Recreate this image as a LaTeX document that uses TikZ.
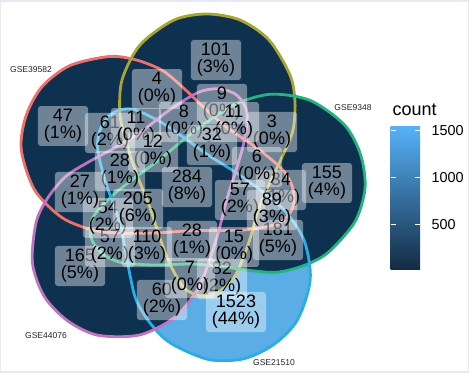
\documentclass[tikz,border=0pt]{standalone}
\usepackage{fontspec}
\setmainfont{Liberation Sans}
\definecolor{framebg}{HTML}{E8E9F3}
\definecolor{navy}{HTML}{0E3150}
\definecolor{skyfill}{HTML}{5BADE5}
\definecolor{setred}{HTML}{EE706B}
\definecolor{setolive}{HTML}{A9A532}
\definecolor{setgreen}{HTML}{22B47C}
\definecolor{setblue}{HTML}{28ADE4}
\definecolor{setpurple}{HTML}{BF74BF}
\definecolor{barlow}{HTML}{132B43}
\definecolor{barmid}{HTML}{336FA6}
\definecolor{barhigh}{HTML}{56B1F7}

% one set outline, head pointing up; the five sets are this turned by 72 degrees
\newcommand\vennshape{plot[smooth cycle] coordinates {(20,-176) (53,-170) (82,-150) (103,-115) (108,-88) (106,-60) (96,-35) (84,-10) (72,18) (61,55) (48,86) (33,101) (15,106) (-3,98) (-18,72) (-28,45) (-38,15) (-50,-15) (-60,-45) (-67,-75) (-65,-110) (-47,-145) (-13,-170)}}

\begin{document}
\begin{tikzpicture}
[
    x=0.75pt, y=-0.75pt,
    cnt/.style={rectangle,rounded corners=2pt,fill=white,fill opacity=0.4,text opacity=1,text=black,align=center,inner xsep=4.5pt,inner ysep=2.5pt,font=\fontsize{13.5}{12.8}\selectfont},
    setname/.style={font=\fontsize{6.4}{7}\selectfont,text=black!85},
    setline/.style={line width=2.1pt},
    barmark/.style={white,line width=0.6pt},
]

\fill[framebg] (0,0) rectangle (469,373);
\fill[white] (1,2) rectangle (467.5,371.5);

% regions and borders
\begin{scope}[shift={(187,190)}]
  \fill[navy] \vennshape;
  \fill[navy,rotate=-72] \vennshape;
  \fill[navy,rotate=-216] \vennshape;
  \fill[navy,rotate=-288] \vennshape;
  \begin{scope}
    \clip[rotate=-144] \vennshape;
    \fill[skyfill,rotate=-144] \vennshape;
    \fill[navy] \vennshape;
    \fill[navy,rotate=-72] \vennshape;
    \fill[navy,rotate=-216] \vennshape;
    \fill[navy,rotate=-288] \vennshape;
  \end{scope}
  \draw[setline,setred,rotate=-288] \vennshape;
  \draw[setline,setolive] \vennshape;
  \draw[setline,setgreen,rotate=-72] \vennshape;
  \draw[setline,setblue,rotate=-144] \vennshape;
  \draw[setline,setpurple,rotate=-216] \vennshape;
\end{scope}

% set names
\node[setname] (nRed) at (31,70) {GSE39582};
\node[setname] (nGreen) at (353,108) {GSE9348};
\node[setname] (nPurple) at (46,336) {GSE44076};
\node[setname] (nBlue) at (274,363) {GSE21510};

% counts
\node (c9) at (222,104) [cnt] {9\\(0\%)};
\node (c61) at (110,133) [cnt] {61\\(2\%)};
\node (c3) at (272,132) [cnt] {3\\(0\%)};
\node (c34) at (281,190) [cnt] {34\\(1\%)};
\node (c181) at (278,240) [cnt] {181\\(5\%)};
\node (c165) at (80,266) [cnt] {165\\(5\%)};
\node (c57b) at (110,247) [cnt] {57\\(2\%)};
\node (c54) at (108,218) [cnt] {54\\(2\%)};
\node (c60) at (162,300) [cnt] {60\\(2\%)};
\node (c82) at (222,279) [cnt] {82\\(2\%)};
\node (c47) at (63,126) [cnt] {47\\(1\%)};
\node (c101) at (216,60) [cnt] {101\\(3\%)};
\node (c4) at (157,89) [cnt] {4\\(0\%)};
\node (c8) at (184,122) [cnt] {8\\(0\%)};
\node (c11a) at (136,128) [cnt] {11\\(0\%)};
\node (c11b) at (234,122) [cnt] {11\\(0\%)};
\node (c12) at (153,152) [cnt] {12\\(0\%)};
\node (c32) at (212,145) [cnt] {32\\(1\%)};
\node (c28a) at (120,171) [cnt] {28\\(1\%)};
\node (c27) at (80,192) [cnt] {27\\(1\%)};
\node (c284) at (187,187) [cnt] {284\\(8\%)};
\node (c6) at (257,167) [cnt] {6\\(0\%)};
\node (c57a) at (240,200) [cnt] {57\\(2\%)};
\node (c89) at (272,210) [cnt] {89\\(3\%)};
\node (c15) at (234,247) [cnt] {15\\(0\%)};
\node (c205) at (138,209) [cnt] {205\\(6\%)};
\node (c110) at (147,247) [cnt] {110\\(3\%)};
\node (c28b) at (192,241) [cnt] {28\\(1\%)};
\node (c7) at (190,278) [cnt] {7\\(0\%)};
\node (c155) at (327,183) [cnt] {155\\(4\%)};
\node (c1523) at (236,312) [cnt] {1523\\(44\%)};

% legend
\node[anchor=west,font=\fontsize{13.5}{14}\selectfont] (legtitle) at (388,110) {count};
\shade[top color=barhigh,middle color=barmid,bottom color=barlow] (390.5,127) rectangle (420,270);
\foreach \v/\y in {500/224.5,1000/177.7,1500/130.7}
{
  \draw[barmark] (390.5,\y) -- +(5,0);
  \draw[barmark] (420,\y) -- +(-5,0);
  \node[anchor=west,font=\fontsize{10.8}{12}\selectfont] (leg\v) at (427,\y) {\v};
}
\end{tikzpicture}
\end{document}
